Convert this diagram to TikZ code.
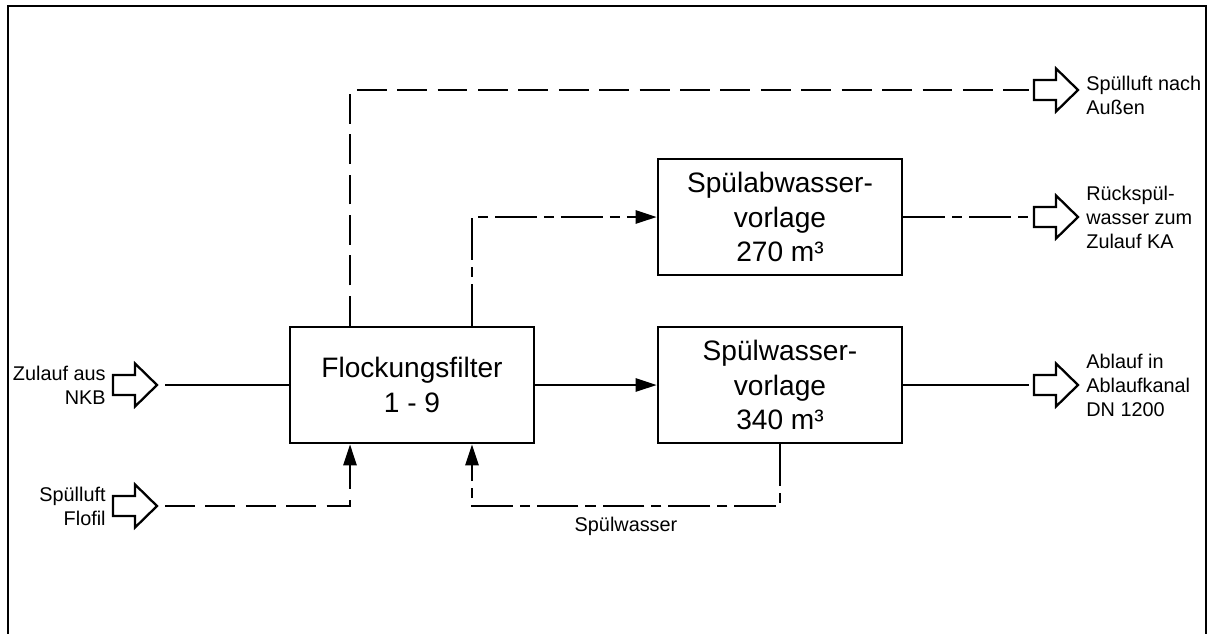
\documentclass[tikz,border=0pt]{standalone}
\usepackage{fontspec}
\setmainfont{Liberation Sans}
\usetikzlibrary{arrows.meta}

\tikzset{
  becken/.style={draw, line width=1.5pt, minimum width=4.88cm, minimum height=2.32cm,
    align=center, inner sep=0pt, font=\fontsize{16}{19.5}\selectfont},
  beschriftung/.style={inner sep=0pt, font=\fontsize{11.3}{13.6}\selectfont},
  leitung/.style={line width=1.3pt},
  luft/.style={leitung, dash pattern=on 17pt off 6pt},
  spuel/.style={leitung, dash pattern=on 23.8pt off 4pt on 5.7pt off 4pt},
  pfeil/.style={-{Triangle[length=12pt, width=7.5pt]}},
  pfeilrand/.style={line width=1.3pt, line join=miter}
}

\begin{document}
\begin{tikzpicture}[x=0.02cm, y=-0.02cm]
    \useasboundingbox (0,0) rectangle (1212,633);
    % Rahmen (unten offen)
    \draw[line width=1.3pt] (8,650) -- (8,6) -- (1206,6) -- (1206,650);
    % Hohlpfeil: Schaft halbe Hoehe 10, Kopf halbe Hoehe 21.5, Laenge 44
    \def\hohlpfeil(#1,#2)#3{%
      \draw[pfeilrand] (#1,#2-10) -- (#1+22,#2-10) -- (#1+22,#2-21.5) -- (#1+44,#2)
        -- (#1+22,#2+21.5) -- (#1+22,#2+10) -- (#1,#2+10) -- cycle;
      \coordinate (#3) at (#1,#2);
      \coordinate (#3-tip) at (#1+44,#2);
    }
    % Becken
    \node[becken] (filter) at (412,385) {Flockungsfilter\\1 - 9};
    \node[becken] (spuelab) at (780,217) {Spülabwasser-\\vorlage\\270 m³};
    \node[becken] (spuelw) at (780,385) {Spülwasser-\\vorlage\\340 m³};
    % Hohlpfeile links (Zulauf) und rechts (Ablauf)
    \hohlpfeil(113,385){zulauf}
    \hohlpfeil(113,506){flofil}
    \hohlpfeil(1034,90){aussen}
    \hohlpfeil(1034,217){rueck}
    \hohlpfeil(1034,385){ablauf}
    % Beschriftungen der Hohlpfeile
    \node[beschriftung, anchor=east, align=right] (zulauf-txt) at ([xshift=-0.14cm]zulauf) {Zulauf aus\\NKB};
    \node[beschriftung, anchor=east, align=right] (flofil-txt) at ([xshift=-0.14cm]flofil) {Spülluft\\Flofil};
    \node[beschriftung, anchor=west, align=left] (aussen-txt) at ([xshift=0.16cm, yshift=-0.1cm]aussen-tip) {Spülluft nach\\Außen};
    \node[beschriftung, anchor=west, align=left] (rueck-txt) at ([xshift=0.16cm]rueck-tip) {Rückspül-\\wasser zum\\Zulauf KA};
    \node[beschriftung, anchor=west, align=left] (ablauf-txt) at ([xshift=0.16cm]ablauf-tip) {Ablauf in\\Ablaufkanal\\DN 1200};
    % Wasserwege
    \draw[leitung, shorten <=0.16cm] (zulauf-tip) -- (filter.west);
    \draw[leitung, pfeil] (filter.east) -- (spuelw.west);
    \draw[leitung, shorten >=0.1cm] (spuelw.east) -- (ablauf);
    \draw[spuel, pfeil] ([xshift=1.2cm]filter.north) |- (spuelab.west);
    \draw[spuel, shorten >=0.1cm] (spuelab.east) -- (rueck);
    \draw[spuel, pfeil] (spuelw.south) -- ++(0,62)
      -| node[beschriftung, pos=0.25, below=0.2cm] (spuelwasser-txt) {Spülwasser} ([xshift=1.2cm]filter.south);
    % Luftwege
    \draw[luft, shorten >=0.1cm] ([xshift=-1.24cm]filter.north) |- (aussen);
    \draw[luft, pfeil, shorten <=0.16cm] (flofil-tip) -| ([xshift=-1.24cm]filter.south);
  \end{tikzpicture}
\end{document}
